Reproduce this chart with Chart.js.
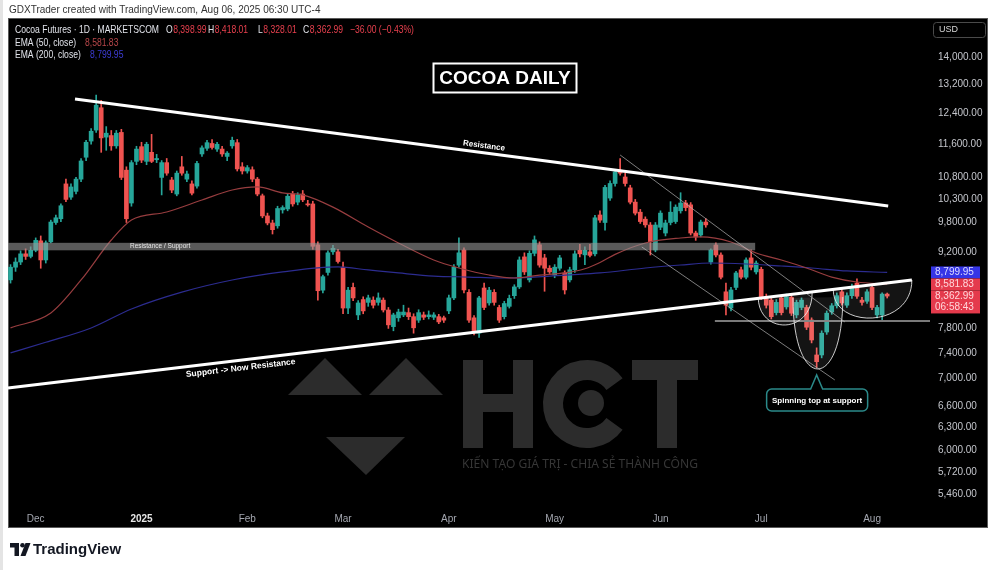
<!DOCTYPE html>
<html>
<head>
<meta charset="utf-8">
<script src="https://cdn.jsdelivr.net/npm/chart.js@4.4.1/dist/chart.umd.min.js"></script>
<style>
  html, body { margin: 0; padding: 0; background: #fff; }
  #wrap { width: 1000px; height: 570px; }
</style>
</head>
<body>
<div id="wrap"><canvas id="chart" width="1000" height="570"></canvas></div>
<script>
// daily candles, 22 Nov 2024 .. 6 Aug 2025 (index = trading day)
const opens = [
  8660, 8900, 9000, 9160, 9110, 9230, 9420, 9040, 9400, 9800,
  9880, 10650, 10350, 10480, 10760, 11280, 11680, 11960, 12550, 11780,
  11820, 11560, 11900, 10970, 10220, 11180, 11540, 11180, 11400, 11220,
  10800, 11150, 10740, 10420, 11050, 10760, 10650, 10600, 11360, 11500,
  11620, 11480, 11480, 11300, 11560, 11640, 11050, 10950, 10980, 10760,
  10380, 9940, 9790, 9730, 10070, 10090, 10420, 10240, 10420, 10200,
  10200, 9340, 8470, 8800, 9200, 9200, 8900, 8150, 8520, 8030,
  8300, 8250, 8290, 8250, 8290, 8116, 7830, 7980, 8030, 8070,
  8000, 7940, 8030, 8000, 7990, 8000, 7980, 8100, 8330, 8940,
  9236, 8430, 7980, 7720, 8510, 8240, 8430, 8160, 8000, 8180,
  8370, 8530, 9100, 8660, 9170, 9340, 9080, 8880, 8750, 8880,
  8790, 8660, 8850, 9230, 9140, 9200, 9160, 9960, 9800, 10330,
  10660, 10970, 10810, 10560, 10240, 10020, 9870, 9747, 9236, 9700,
  9580, 9800, 9820, 10050, 10220, 10180, 9580, 9540, 9810, 9000,
  9336, 9137, 8440, 8150, 8520, 8850, 8710, 9080, 8810, 8860,
  8350, 8290, 8070, 8330, 8170, 8340, 8030, 8160, 8160, 7943,
  7366, 7366, 7740, 8080, 8190, 8440, 8200, 8370, 8600, 8290,
  8270, 8520, 8030, 8030, 8398.99
];
const highs = [
  8950, 9080, 9220, 9260, 9300, 9480, 9520, 9420, 9850, 9960,
  10200, 10760, 10650, 10800, 11250, 11700, 12000, 12900, 12750, 12050,
  11950, 11950, 11980, 11050, 11200, 11550, 11650, 11650, 11850, 11350,
  11200, 11250, 10800, 10950, 11300, 10950, 10720, 11180, 11560, 11700,
  11720, 11650, 11550, 11420, 11780, 11720, 11150, 11080, 11050, 10800,
  10420, 10000, 9850, 10150, 10160, 10420, 10480, 10450, 10500, 10280,
  10260, 9400, 8750, 9220, 9330, 9250, 9000, 8520, 8600, 8280,
  8350, 8380, 8350, 8420, 8330, 8160, 8060, 8130, 8200, 8150,
  8050, 8120, 8080, 8100, 8070, 8040, 8010, 8380, 8950, 9480,
  9280, 8480, 8020, 8360, 8600, 8520, 8480, 8200, 8270, 8380,
  8570, 9100, 9180, 9220, 9520, 9400, 9150, 8930, 8950, 9130,
  8830, 8900, 9220, 9350, 9300, 9350, 9950, 10050, 10620, 10720,
  10990, 11250, 10900, 10620, 10300, 10080, 9920, 9800, 9800, 10050,
  9850, 10250, 10180, 10450, 10280, 10230, 9620, 9850, 9880, 9260,
  9380, 9180, 8600, 8520, 8820, 8900, 9080, 9240, 9020, 8900,
  8400, 8330, 8300, 8380, 8400, 8380, 8290, 8330, 8200, 7980,
  7480, 7760, 8100, 8230, 8420, 8500, 8420, 8580, 8680, 8340,
  8480, 8560, 8200, 8420, 8418.01
];
const lows = [
  8600, 8820, 8950, 9050, 9080, 9200, 8880, 8980, 9380, 9760,
  9820, 10250, 10300, 10420, 10700, 11200, 11600, 11900, 11400, 11450,
  11450, 11500, 10750, 9800, 10150, 11100, 11150, 11100, 11150, 11150,
  10400, 10850, 10450, 10380, 10850, 10700, 10400, 10550, 11300, 11450,
  11480, 11420, 11300, 11200, 11500, 10950, 10880, 10900, 10700, 10380,
  9900, 9750, 9560, 9680, 10000, 10050, 10150, 10180, 10250, 10150,
  9250, 8290, 8420, 8750, 9150, 8980, 8050, 8050, 8280, 7950,
  8050, 8180, 8150, 8200, 8080, 7800, 7760, 7920, 8000, 7950,
  7720, 7900, 7950, 7960, 7950, 7880, 7900, 8050, 8300, 8900,
  8420, 7900, 7690, 7650, 8120, 8200, 8200, 7900, 7960, 8150,
  8320, 8500, 8760, 8620, 9120, 8900, 8450, 8780, 8700, 8840,
  8400, 8620, 8800, 9100, 8950, 9100, 9120, 9800, 9640, 10280,
  10600, 10850, 10600, 10200, 9960, 9780, 9700, 9137, 9200, 9650,
  9520, 9750, 9780, 10000, 10050, 9540, 9430, 9500, 9700, 8960,
  9100, 8680, 8030, 8100, 8480, 8680, 8680, 8850, 8770, 8300,
  8150, 7960, 8030, 8030, 8130, 8020, 7980, 8120, 7780, 7560,
  7170, 7320, 7700, 8040, 8150, 8200, 8160, 8320, 8320, 8200,
  8230, 8120, 7980, 7950, 8328.01
];
const closes = [
  8900, 9000, 9160, 9110, 9230, 9430, 9040, 9380, 9810, 9900,
  10160, 10300, 10580, 10760, 11190, 11650, 11930, 12620, 11760, 11880,
  11560, 11880, 10800, 9880, 11150, 11480, 11210, 11600, 11180, 11250,
  11150, 10900, 10510, 10900, 10900, 10880, 10440, 11130, 11510, 11640,
  11520, 11600, 11360, 11380, 11700, 11000, 10950, 11030, 10760, 10420,
  9940, 9790, 9650, 10100, 10120, 10370, 10200, 10400, 10290, 10180,
  9310, 8460, 8720, 9180, 9270, 9010, 8150, 8470, 8330, 8240,
  8100, 8330, 8200, 8330, 8116, 7860, 8030, 8080, 8080, 8000,
  7810, 8070, 7990, 8030, 8030, 7910, 7940, 8330, 8900, 9180,
  8474, 7940, 7740, 8330, 8160, 8470, 8250, 7940, 8230, 8320,
  8530, 9040, 8810, 9170, 9440, 8940, 8880, 8810, 8900, 9080,
  8474, 8850, 9160, 9160, 9230, 9130, 9900, 9850, 10570, 10660,
  10930, 10900, 10660, 10240, 10000, 9820, 9750, 9400, 9747, 10000,
  9790, 10020, 10130, 10220, 10120, 9580, 9500, 9810, 9750, 9236,
  9137, 8710, 8200, 8474, 8790, 8710, 9040, 8900, 8980, 8330,
  8200, 8000, 8250, 8070, 8350, 8060, 8250, 8290, 7820, 7608,
  7260, 7720, 8060, 8190, 8370, 8240, 8370, 8530, 8360, 8250,
  8440, 8160, 8160, 8398.99, 8362.99
];

// EMA lines at these bar indices
const ema50Idx = [0, 8, 14, 20, 24, 31, 38, 44, 49, 54, 58, 64, 71, 77, 84, 89, 95, 100, 105, 110, 114, 117, 120, 126, 133, 137, 143, 148, 153, 158, 163, 168, 174];
const ema50 = [7808, 8064, 8658, 9437, 9853, 10024, 10287, 10511, 10580, 10445, 10400, 10130, 9705, 9377, 9039, 8885, 8751, 8695, 8751, 8790, 8870, 8990, 9150, 9377, 9478, 9500, 9397, 9177, 9039, 8885, 8713, 8620, 8581.83];
const ema200Idx = [0, 7, 16, 24, 34, 44, 54, 65, 71, 77, 84, 91, 97, 104, 110, 117, 126, 133, 139, 146, 153, 159, 166, 174];
const ema200 = [7400, 7570, 7808, 8134, 8435, 8658, 8810, 8905, 8847, 8790, 8732, 8713, 8695, 8713, 8751, 8790, 8885, 8942, 8981, 8962, 8923, 8885, 8828, 8799.95];

// axes
const monthTickIdx = [5, 26, 47, 66, 87, 108, 129, 149, 171];
const monthTickLabels = ['Dec', '2025', 'Feb', 'Mar', 'Apr', 'May', 'Jun', 'Jul', 'Aug'];
const priceTicks = [14000, 13200, 12400, 11600, 10800, 10300, 9800, 9200, 7800, 7400, 7000, 6600, 6300, 6000, 5720, 5460];

// drawings, as [bar index, price]
const resistanceLine = [[12.8, 12789], [174.2, 10155]];
const supportLine = [[-0.5, 6860], [178.9, 8658]];
const channelUpper = [[121.0, 11335], [165.6, 7909]];
const channelLower = [[125.3, 9296], [163.6, 6980]];
const rsBand = [9230, 9380];
const rsBandEnd = 147.8;
const supportLevel = 7925;
const supportLevelStart = 139.8;
const cups = [
  [[148.4, 8347], [153.7, 7858], [159.1, 8418]],
  [[155.3, 8329], [160.3, 7147], [165.2, 8347]],
  [[163.3, 8474], [171.2, 7977], [178.9, 8658]]
];

const upColor = '#26a69a';
const downColor = '#ef5350';
const FONT = '"Liberation Sans", Arial, sans-serif';
const fmt = v => v.toLocaleString('en-US', { minimumFractionDigits: 2, maximumFractionDigits: 2 });

const candleColors = opens.map((o, i) => closes[i] >= o ? upColor : downColor);
const bodies = opens.map((o, i) => ({ x: i, y: [o, closes[i]] }));
const wicks = opens.map((o, i) => ({ x: i, y: [lows[i], highs[i]] }));

function px(chart, p) {
  return [chart.scales.x.getPixelForValue(p[0]), chart.scales.y.getPixelForValue(p[1])];
}

function line(ctx, a, b, color, width) {
  ctx.beginPath();
  ctx.moveTo(a[0], a[1]);
  ctx.lineTo(b[0], b[1]);
  ctx.strokeStyle = color;
  ctx.lineWidth = width;
  ctx.stroke();
}

// text squeezed horizontally, the screenshot font is narrower than ours
function narrowText(ctx, text, x, y, sx) {
  ctx.save();
  ctx.translate(x, y);
  ctx.scale(sx, 1);
  ctx.fillText(text, 0, 0);
  ctx.restore();
  return ctx.measureText(text).width * sx;
}

function labelOnLine(ctx, chart, seg, at, offset, text, font) {
  const a = px(chart, seg[0]), b = px(chart, seg[1]);
  const ang = Math.atan2(b[1] - a[1], b[0] - a[0]);
  const x = chart.scales.x.getPixelForValue(at);
  const y = a[1] + (b[1] - a[1]) * (x - a[0]) / (b[0] - a[0]);
  ctx.save();
  ctx.translate(x, y);
  ctx.rotate(ang);
  ctx.font = font;
  ctx.fillStyle = '#fff';
  ctx.textAlign = 'center';
  ctx.textBaseline = 'middle';
  ctx.fillText(text, 0, offset);
  ctx.restore();
}

const backdrop = {
  id: 'backdrop',
  beforeDraw(chart) {
    const ctx = chart.ctx;
    ctx.save();
    ctx.fillStyle = '#ffffff';
    ctx.fillRect(0, 0, 1000, 570);
    ctx.fillStyle = '#e4e4e4';
    ctx.fillRect(0, 0, 3, 570);
    ctx.fillStyle = '#000';
    ctx.fillRect(8, 18, 980, 509);
    ctx.strokeStyle = '#5a5a5a';
    ctx.lineWidth = 1;
    ctx.strokeRect(8.5, 18.5, 979, 509);

    ctx.textBaseline = 'middle';
    ctx.textAlign = 'left';
    ctx.font = '10px ' + FONT;
    ctx.fillStyle = '#333';
    ctx.fillText('GDXTrader created with TradingView.com, Aug 06, 2025 06:30 UTC-4', 9, 10);

    // legend
    const n = closes.length - 1;
    ctx.font = '10.5px ' + FONT;
    const title = 'Cocoa Futures \u00b7 1D \u00b7 MARKETSCOM';
    const sx = 144 / ctx.measureText(title).width;
    ctx.fillStyle = '#e1e3ea';
    narrowText(ctx, title, 15, 30, sx);
    const ohlc = [['O', opens[n], 166], ['H', highs[n], 208], ['L', lows[n], 258], ['C', closes[n], 303]];
    ohlc.forEach(([k, v, x]) => {
      ctx.fillStyle = '#e1e3ea';
      const w = narrowText(ctx, k, x, 30, sx);
      ctx.fillStyle = '#e8404e';
      narrowText(ctx, fmt(v), x + w + 0.5, 30, sx);
    });
    const chg = closes[n] - opens[n];
    narrowText(ctx, fmt(chg).replace('-', '\u2212') + ' (' + (chg / opens[n] * 100).toFixed(2).replace('-', '\u2212') + '%)', 350, 30, sx);
    ctx.fillStyle = '#e1e3ea';
    narrowText(ctx, 'EMA (50, close)', 15, 43, sx);
    narrowText(ctx, 'EMA (200, close)', 15, 55, sx);
    ctx.fillStyle = '#b8474a';
    narrowText(ctx, fmt(ema50[ema50.length - 1]), 85, 43, sx);
    ctx.fillStyle = '#3d3dd6';
    narrowText(ctx, fmt(ema200[ema200.length - 1]), 90, 55, sx);

    // USD box
    ctx.strokeStyle = '#4a4a4a';
    ctx.beginPath();
    ctx.roundRect(933.5, 22.5, 52, 15, 3);
    ctx.stroke();
    ctx.font = '9px ' + FONT;
    ctx.fillStyle = '#d8d8d8';
    ctx.fillText('USD', 939, 30);

    // TradingView logo
    ctx.fillStyle = '#131722';
    ctx.fillRect(10, 543, 9, 4.5);
    ctx.fillRect(14.5, 543, 4.5, 13);
    ctx.beginPath();
    ctx.arc(22.5, 545.3, 2.3, 0, Math.PI * 2);
    ctx.fill();
    ctx.beginPath();
    ctx.moveTo(20.5, 556);
    ctx.lineTo(25.5, 543);
    ctx.lineTo(30.5, 543);
    ctx.lineTo(25.5, 556);
    ctx.closePath();
    ctx.fill();
    ctx.font = 'bold 15px ' + FONT;
    ctx.fillText('TradingView', 33, 550);
    ctx.restore();
  },
  beforeDatasetsDraw(chart) {
    // HCT watermark
    const ctx = chart.ctx;
    ctx.save();
    ctx.fillStyle = '#2c2c2c';
    const tri = pts => { ctx.beginPath(); ctx.moveTo(...pts[0]); ctx.lineTo(...pts[1]); ctx.lineTo(...pts[2]); ctx.closePath(); ctx.fill(); };
    tri([[288, 395], [362, 395], [325, 358]]);
    tri([[369, 395], [443, 395], [406, 358]]);
    tri([[326, 437], [405, 437], [366, 475]]);
    ctx.fillRect(463, 360, 20, 88);
    ctx.fillRect(513, 360, 20, 88);
    ctx.fillRect(463, 394, 70, 18);
    ctx.beginPath();
    ctx.arc(587, 404, 34, Math.PI * 0.2, Math.PI * 1.8);
    ctx.lineWidth = 20;
    ctx.strokeStyle = '#2c2c2c';
    ctx.stroke();
    ctx.beginPath();
    ctx.arc(591, 403, 13, 0, Math.PI * 2);
    ctx.fill();
    ctx.fillRect(632, 360, 66, 20);
    ctx.fillRect(657, 360, 20, 88);
    ctx.font = '12px "Noto Sans", sans-serif';
    const txt = 'KI\u1ebeN T\u1ea0O GI\u00c1 TR\u1eca - CHIA S\u1eba TH\u00c0NH C\u00d4NG';
    const size = 12 * 236 / ctx.measureText(txt).width;
    ctx.font = size.toFixed(2) + 'px "Noto Sans", sans-serif';
    ctx.fillStyle = '#363636';
    ctx.textBaseline = 'middle';
    ctx.fillText(txt, 462, 465);
    ctx.restore();
  },
  afterDatasetsDraw(chart) {
    const ctx = chart.ctx;
    const xs = chart.scales.x, ys = chart.scales.y;
    ctx.save();

    // resistance / support band
    const b0 = ys.getPixelForValue(rsBand[1]), b1 = ys.getPixelForValue(rsBand[0]);
    const bx0 = xs.getPixelForValue(-0.5), bx1 = xs.getPixelForValue(rsBandEnd);
    ctx.fillStyle = 'rgba(150,150,150,0.6)';
    ctx.fillRect(bx0, b0, bx1 - bx0, b1 - b0);
    ctx.font = '6.5px ' + FONT;
    ctx.fillStyle = '#e6e6e6';
    ctx.textAlign = 'center';
    ctx.textBaseline = 'middle';
    ctx.fillText('Resistance / Support', xs.getPixelForValue(29.7), (b0 + b1) / 2);

    // horizontal support level
    line(ctx, [xs.getPixelForValue(supportLevelStart), ys.getPixelForValue(supportLevel)],
      [xs.getPixelForValue(182.5), ys.getPixelForValue(supportLevel)], '#7a7a7a', 2);

    // cups
    cups.forEach(c => {
      const L = px(chart, c[0]), B = px(chart, c[1]), R = px(chart, c[2]);
      const a = (L[1] + R[1]) / 2;
      const cy = (4 * B[1] - a) / 3;
      ctx.beginPath();
      ctx.moveTo(L[0], L[1]);
      ctx.bezierCurveTo(L[0], cy, R[0], cy, R[0], R[1]);
      ctx.closePath();
      ctx.fillStyle = 'rgba(255,255,255,0.08)';
      ctx.fill();
      ctx.beginPath();
      ctx.moveTo(L[0], L[1]);
      ctx.bezierCurveTo(L[0], cy, R[0], cy, R[0], R[1]);
      ctx.strokeStyle = 'rgba(235,235,235,0.85)';
      ctx.lineWidth = 1;
      ctx.stroke();
    });

    // descending channel
    line(ctx, px(chart, channelUpper[0]), px(chart, channelUpper[1]), 'rgba(190,190,190,0.65)', 1);
    line(ctx, px(chart, channelLower[0]), px(chart, channelLower[1]), 'rgba(190,190,190,0.65)', 1);

    // trend lines
    line(ctx, px(chart, resistanceLine[0]), px(chart, resistanceLine[1]), '#ffffff', 3);
    line(ctx, px(chart, supportLine[0]), px(chart, supportLine[1]), '#ffffff', 3);
    labelOnLine(ctx, chart, resistanceLine, 93.8, -7, 'Resistance', 'bold 8px ' + FONT);
    labelOnLine(ctx, chart, supportLine, 45.5, 8, 'Support -> Now Resistance', 'bold 8.5px ' + FONT);

    // title
    ctx.fillStyle = '#000';
    ctx.fillRect(433, 63, 144, 30);
    ctx.strokeStyle = '#fff';
    ctx.lineWidth = 2;
    ctx.strokeRect(433.5, 63.5, 143, 29);
    ctx.font = 'bold 19px ' + FONT;
    ctx.fillStyle = '#fff';
    ctx.textAlign = 'center';
    ctx.textBaseline = 'middle';
    ctx.fillText('COCOA DAILY', 505, 79);

    // callout under the spinning top
    const nx = xs.getPixelForValue(160), ny = ys.getPixelForValue(lows[160]) + 7.5;
    const bw = 101, bh = 22, bx = nx - 50, by = ny + 14, r = 5;
    ctx.beginPath();
    ctx.moveTo(bx + r, by);
    ctx.lineTo(nx - 6, by);
    ctx.lineTo(nx, ny);
    ctx.lineTo(nx + 6, by);
    ctx.lineTo(bx + bw - r, by);
    ctx.arcTo(bx + bw, by, bx + bw, by + r, r);
    ctx.lineTo(bx + bw, by + bh - r);
    ctx.arcTo(bx + bw, by + bh, bx + bw - r, by + bh, r);
    ctx.lineTo(bx + r, by + bh);
    ctx.arcTo(bx, by + bh, bx, by + bh - r, r);
    ctx.lineTo(bx, by + r);
    ctx.arcTo(bx, by, bx + r, by, r);
    ctx.closePath();
    ctx.fillStyle = '#000';
    ctx.fill();
    ctx.strokeStyle = '#2b8a8a';
    ctx.lineWidth = 1.5;
    ctx.stroke();
    ctx.font = 'bold 8px ' + FONT;
    ctx.fillStyle = '#fff';
    ctx.fillText('Spinning top at support', bx + bw / 2, by + bh / 2 + 0.5);
    ctx.restore();
  },
  afterDraw(chart) {
    // last-value labels on the price scale
    const ctx = chart.ctx, ys = chart.scales.y;
    const x0 = 931, w = 49;
    ctx.save();
    ctx.font = '10px ' + FONT;
    ctx.textAlign = 'left';
    ctx.textBaseline = 'middle';
    const e200 = ema200[ema200.length - 1], e50 = ema50[ema50.length - 1], c = closes[closes.length - 1];
    let top = ys.getPixelForValue(e200) - 6;
    ctx.fillStyle = '#3535e6';
    ctx.fillRect(x0, top, w, 12);
    ctx.fillStyle = '#dcdcff';
    ctx.fillText(fmt(e200), x0 + 4, top + 6);
    top = Math.max(top + 12, ys.getPixelForValue(e50) - 6);
    ctx.fillStyle = '#e43a4c';
    ctx.fillRect(x0, top, w, 12);
    ctx.fillStyle = '#ffd6da';
    ctx.fillText(fmt(e50), x0 + 4, top + 6);
    top = Math.max(top + 12, ys.getPixelForValue(c) - 6);
    ctx.fillStyle = '#e43a4c';
    ctx.fillRect(x0, top, w, 23);
    ctx.fillStyle = '#ffd6da';
    ctx.fillText(fmt(c), x0 + 4, top + 6);
    ctx.fillText('06:58:43', x0 + 4, top + 17);
    ctx.restore();
  }
};

new Chart(document.getElementById('chart'), {
  type: 'bar',
  data: {
    datasets: [
      {
        type: 'line', data: ema50Idx.map((x, i) => ({ x, y: ema50[i] })),
        borderColor: '#973d3f', borderWidth: 1.2, pointRadius: 0,
        cubicInterpolationMode: 'monotone', order: 0
      },
      {
        type: 'line', data: ema200Idx.map((x, i) => ({ x, y: ema200[i] })),
        borderColor: '#2c2c90', borderWidth: 1.2, pointRadius: 0,
        cubicInterpolationMode: 'monotone', order: 0
      },
      {
        data: bodies, backgroundColor: candleColors, barThickness: 4,
        minBarLength: 1, grouped: false, order: 1
      },
      {
        data: wicks, backgroundColor: candleColors, barThickness: 1,
        grouped: false, order: 2
      }
    ]
  },
  options: {
    responsive: false,
    animation: false,
    devicePixelRatio: 1,
    layout: { padding: { left: 8, right: 12, top: 18, bottom: 43 } },
    plugins: { legend: { display: false }, tooltip: { enabled: false } },
    scales: {
      x: {
        type: 'linear', min: -0.5, max: 182.5, offset: false,
        grid: { display: false, drawTicks: false, offset: false }, border: { display: false },
        afterBuildTicks: s => { s.ticks = monthTickIdx.map(v => ({ value: v })); },
        afterFit: s => { s.height = 20; },
        ticks: {
          autoSkip: false, maxRotation: 0, padding: 6,
          color: c => (c.tick && c.tick.value === 26) ? '#e6e6e6' : '#a3a6af',
          font: c => (c.tick && c.tick.value === 26) ? { size: 10, weight: 'bold', family: FONT } : { size: 10, family: FONT },
          callback: v => { const k = monthTickIdx.indexOf(v); return k >= 0 ? monthTickLabels[k] : ''; }
        }
      },
      y: {
        type: 'logarithmic', position: 'right', min: 5308, max: 15228, bounds: 'data',
        grid: { display: false, drawTicks: false }, border: { display: false },
        afterBuildTicks: s => { s.ticks = priceTicks.map(v => ({ value: v })); },
        afterFit: s => { s.width = 58; },
        ticks: {
          padding: 8, color: '#c4c6cc', font: { size: 10, family: FONT },
          callback: v => fmt(v)
        }
      }
    }
  },
  plugins: [backdrop]
});
</script>
</body>
</html>
